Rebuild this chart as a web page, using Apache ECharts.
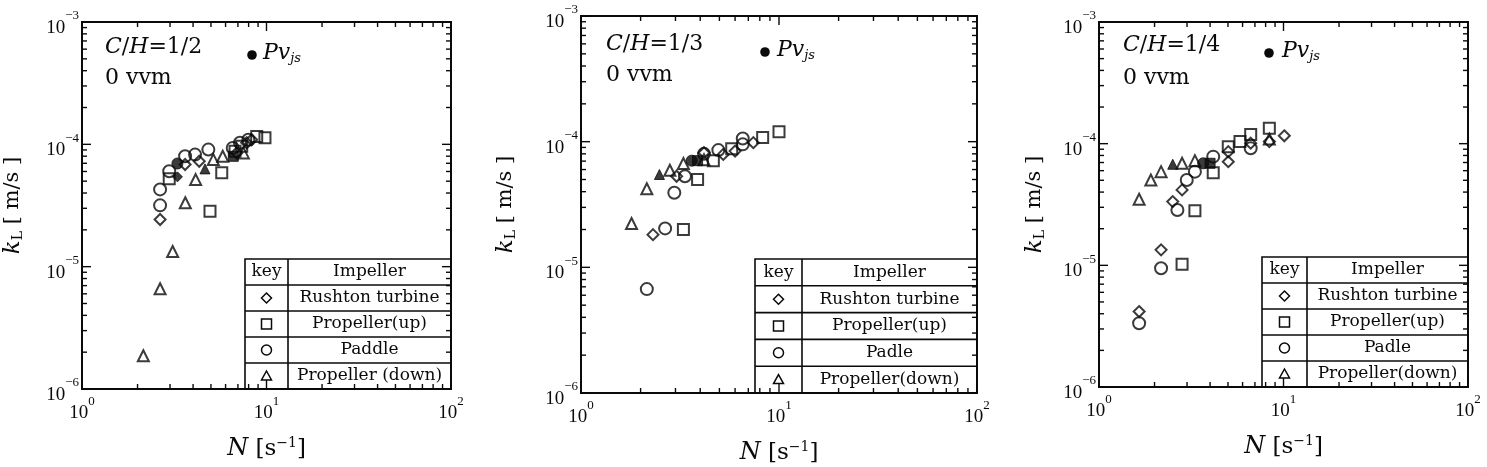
<!DOCTYPE html>
<html><head><meta charset="utf-8">
<script src="https://cdn.jsdelivr.net/npm/echarts@6/dist/echarts.min.js"></script>
<style>html,body{margin:0;padding:0;background:#fff}#c{width:1487px;height:467px}</style>
</head><body><div id="c"></div>
<script>
// ---------- DATA ----------
const RT = 0, UP = 1, PA = 2, DN = 3; // impeller kinds
const ratioLabels = ['1/2', '1/3', '1/4'];
const impellerNames = [
  ['Rushton turbine', 'Propeller(up)', 'Paddle', 'Propeller (down)'],
  ['Rushton turbine', 'Propeller(up)', 'Padle', 'Propeller(down)'],
  ['Rushton turbine', 'Propeller(up)', 'Padle', 'Propeller(down)']
];
// Panel 1 (C/H = 1/2): [N (1/s), kL (m/s)]
const p1Rushton = [[2.65,2.43e-5],[3.62,6.84e-5],[4.32,7.27e-5],[6.9,8.5e-5],[7.81,1.03e-4],[8.31,1.09e-4]];
const p1PropUp  = [[2.97,5.22e-5],[4.94,2.84e-5],[5.72,5.85e-5],[6.75,8.77e-5],[7.34,9.63e-5],[8.85,1.16e-4],[9.81,1.13e-4]];
const p1Paddle  = [[2.65,4.28e-5],[2.65,3.17e-5],[2.97,6.03e-5],[3.62,7.98e-5],[4.10,8.24e-5],[4.84,9.06e-5],[6.56,9.35e-5],[7.18,1.03e-4],[7.97,1.09e-4]];
const p1PropDn  = [[2.15,1.87e-6],[2.65,6.6e-6],[3.10,1.33e-5],[3.63,3.33e-5],[4.13,5.15e-5],[5.15,7.5e-5],[5.79,7.98e-5],[7.49,8.51e-5]];
const p1Pvjs    = [[3.29,5.42e-5,RT],[3.29,6.97e-5,PA],[4.64,6.30e-5,DN],[6.61,7.98e-5,UP]];
// Panel 2 (C/H = 1/3)
const p2Rushton = [[2.31,1.82e-5],[3.04,5.31e-5],[4.18,8.17e-5],[5.23,7.92e-5],[6.0,8.41e-5],[7.42,9.82e-5]];
const p2PropUp  = [[3.29,2.0e-5],[3.88,5.0e-5],[4.66,7.06e-5],[5.77,8.80e-5],[8.27,1.08e-4],[10.0,1.20e-4]];
const p2Paddle  = [[2.15,6.71e-6],[2.66,2.04e-5],[2.96,3.92e-5],[3.35,5.31e-5],[4.18,8.0e-5],[4.94,8.57e-5],[6.56,1.06e-4],[6.56,9.52e-5]];
const p2PropDn  = [[1.80,2.23e-5],[2.15,4.22e-5],[2.81,5.93e-5],[3.29,6.71e-5],[4.18,7.18e-5]];
const p2Pvjs    = [[2.49,5.48e-5,DN],[3.62,7.06e-5,PA],[3.88,7.06e-5,UP]];
// Panel 3 (C/H = 1/4)
const p3Rushton = [[1.65,4.17e-6],[2.17,1.34e-5],[2.51,3.34e-5],[2.82,4.17e-5],[5.02,7.11e-5],[5.02,8.60e-5],[6.64,1.01e-4],[8.38,1.04e-4],[10.1,1.16e-4]];
const p3PropUp  = [[2.82,1.02e-5],[3.31,2.81e-5],[4.16,5.78e-5],[5.02,9.45e-5],[5.81,1.04e-4],[6.64,1.19e-4],[8.38,1.34e-4]];
const p3Paddle  = [[1.65,3.34e-6],[2.17,9.47e-6],[2.66,2.85e-5],[2.99,5.03e-5],[3.31,5.89e-5],[4.16,7.82e-5],[6.64,9.17e-5]];
const p3PropDn  = [[1.65,3.49e-5],[1.91,5.03e-5],[2.17,5.89e-5],[2.82,6.90e-5],[3.31,7.25e-5],[8.38,1.09e-4]];
const p3Pvjs    = [[2.51,6.77e-5,DN],[3.67,6.90e-5,PA],[4.0,6.90e-5,UP]];
// Axis ranges / ticks
const xMin = 1, xMax = 100, yMin = 1e-6, yMax = 1e-3;

const panelSets = [
  [p1Rushton, p1PropUp, p1Paddle, p1PropDn],
  [p2Rushton, p2PropUp, p2Paddle, p2PropDn],
  [p3Rushton, p3PropUp, p3Paddle, p3PropDn]
];
const panelPvjs = [p1Pvjs, p2Pvjs, p3Pvjs];

// ---------- LAYOUT ----------
const grids = [
  {left: 82, top: 22, width: 369, height: 367},
  {left: 581, top: 16, width: 396, height: 377},
  {left: 1099, top: 22, width: 369, height: 365}
];
const yNameGap = [57, 63, 52];
const tableLeft = [163, 174, 163];
const tableDiv = [206, 221, 208];
const tableH = [130, 134, 130];
const annot = [ // [chX, chY, vvmY, dotX, dotY, pX, pY] relative to grid
  [23, 14, 45, 170, 33, 181, 20],
  [25, 17, 48, 184, 36, 196, 23],
  [24, 12, 45, 170, 31, 183, 18]
];
const INK = '#0a0a0a';
const SERIF = '"DejaVu Serif", serif';
const TIMES = '"Liberation Serif", "Times New Roman", serif';
const shapes = ['diamond', 'rect', 'circle', 'triangle'];
const sizes = [11, 11, 12, 11];

// tick values (decades and 2..9 multiples)
function tickVals(lo, hi) {
  const out = [];
  for (let d = Math.round(Math.log10(lo)); d <= Math.round(Math.log10(hi)); d++) {
    for (let m = 1; m <= 9; m++) {
      const v = m * Math.pow(10, d);
      if (v <= hi * 1.0001) out.push([v, m === 1 ? 1 : 0]);
    }
  }
  return out;
}
const xTickVals = tickVals(xMin, xMax);
const yTickVals = tickVals(yMin, yMax);

function expLabel(v) {
  const e = Math.round(Math.log10(v));
  return '{b|10}{s|' + (e < 0 ? '\u2212' + (-e) : e) + '}';
}
const labelRich = {
  b: {fontFamily: TIMES, fontSize: 19, lineHeight: 19, color: INK, padding: [12, 0, 0, 0]},
  s: {fontFamily: TIMES, fontSize: 13, lineHeight: 13, color: INK, padding: [0, 0, 12, 0]}
};

const option = {
  backgroundColor: '#fff',
  animation: false,
  grid: grids.map(g => Object.assign({show: true, borderColor: INK, borderWidth: 2, backgroundColor: 'transparent',
    containLabel: false, outerBoundsMode: 'none'}, g)),
  xAxis: grids.map((g, i) => ({
    type: 'log', logBase: 10, gridIndex: i, min: xMin, max: xMax, splitNumber: 2,
    axisLine: {show: false}, axisTick: {show: false}, splitLine: {show: false},
    axisLabel: {margin: 9, fontSize: 19, fontFamily: TIMES, color: INK, formatter: expLabel, rich: labelRich},
    name: '{n|N} [s{s|\u22121}]', nameLocation: 'middle', nameGap: 47,
    nameTextStyle: {fontFamily: SERIF, fontSize: 23, color: INK,
      rich: {n: {fontFamily: SERIF, fontStyle: 'italic', fontSize: 24, color: INK},
             s: {fontFamily: SERIF, fontSize: 14, color: INK, padding: [0, 0, 12, 0]}}}
  })),
  yAxis: grids.map((g, i) => ({
    type: 'log', logBase: 10, gridIndex: i, min: yMin, max: yMax, splitNumber: 3,
    axisLine: {show: false}, axisTick: {show: false}, splitLine: {show: false},
    axisLabel: {margin: 3, fontSize: 19, fontFamily: TIMES, color: INK, formatter: expLabel, rich: labelRich},
    name: '{k|k}{l|L}{t| [ m/s ]}', nameLocation: 'middle', nameRotate: 90, nameGap: yNameGap[i],
    nameTextStyle: {fontFamily: SERIF, fontSize: 21, color: INK,
      rich: {k: {fontFamily: SERIF, fontStyle: 'italic', fontSize: 23, color: INK},
             l: {fontFamily: SERIF, fontSize: 14, color: INK, padding: [10, 0, 0, 0]},
             t: {fontFamily: SERIF, fontSize: 21, color: INK}}}
  })),
  series: [],
  graphic: []
};

grids.forEach((g, i) => {
  // open markers
  panelSets[i].forEach((set, k) => {
    option.series.push({
      type: 'scatter', name: impellerNames[i][k], xAxisIndex: i, yAxisIndex: i,
      symbol: shapes[k], symbolSize: sizes[k], data: set, z: 3,
      itemStyle: {color: 'rgba(0,0,0,0)', borderColor: INK, borderWidth: 2}
    });
  });
  // filled markers (Pvjs)
  option.series.push({
    type: 'scatter', name: 'Pvjs', xAxisIndex: i, yAxisIndex: i, z: 4,
    data: panelPvjs[i].map(d => ({value: [d[0], d[1]], symbol: shapes[d[2]], symbolSize: sizes[d[2]] - 1})),
    itemStyle: {color: INK, borderColor: INK, borderWidth: 1}
  });
  // ticks on all four sides
  const tickData = xTickVals.map(t => [t[0], yMin, 0, t[1]]).concat(yTickVals.map(t => [xMin, t[0], 1, t[1]]));
  option.series.push({
    type: 'custom', xAxisIndex: i, yAxisIndex: i, silent: true, z: 5, clip: false,
    data: tickData,
    renderItem: function (params, api) {
      const cs = params.coordSys;
      const isY = api.value(2) === 1;
      const len = api.value(3) === 1 ? 9 : 5;
      const p = api.coord([api.value(0), api.value(1)]);
      const style = {stroke: INK, lineWidth: 1.4};
      if (!isY) {
        const x = p[0], yb = cs.y + cs.height, yt = cs.y;
        return {type: 'group', children: [
          {type: 'line', shape: {x1: x, y1: yb, x2: x, y2: yb - len}, style: style},
          {type: 'line', shape: {x1: x, y1: yt, x2: x, y2: yt + len}, style: style}]};
      }
      const y = p[1], xl = cs.x, xr = cs.x + cs.width;
      return {type: 'group', children: [
        {type: 'line', shape: {x1: xl, y1: y, x2: xl + len, y2: y}, style: style},
        {type: 'line', shape: {x1: xr, y1: y, x2: xr - len, y2: y}, style: style}]};
    }
  });

  // ---------- annotations ----------
  const a = annot[i];
  option.graphic.push(
    {type: 'text', x: g.left + a[0], y: g.top + a[1], silent: true,
     style: {text: '{i|C}/{i|H}=' + ratioLabels[i], fontFamily: SERIF, fontSize: 22, fill: INK,
       textVerticalAlign: 'top', rich: {i: {fontFamily: SERIF, fontStyle: 'italic', fontSize: 22, fill: INK}}}},
    {type: 'text', x: g.left + a[0], y: g.top + a[2], silent: true,
     style: {text: '0 vvm', fontFamily: SERIF, fontSize: 22, fill: INK, textVerticalAlign: 'top'}},
    {type: 'circle', shape: {cx: g.left + a[3], cy: g.top + a[4], r: 4.8}, style: {fill: INK}, silent: true},
    {type: 'text', x: g.left + a[5], y: g.top + a[6], silent: true,
     style: {text: '{p|Pv}{j|js}', fontFamily: SERIF, fontSize: 22, fill: INK, textVerticalAlign: 'top',
       rich: {p: {fontFamily: SERIF, fontStyle: 'italic', fontSize: 22, fill: INK},
              j: {fontFamily: SERIF, fontStyle: 'italic', fontSize: 13, fill: INK, padding: [10, 0, 0, 0]}}}}
  );

  // ---------- key table ----------
  const x0 = g.left + tableLeft[i], x1 = g.left + g.width, xd = g.left + tableDiv[i];
  const y1 = g.top + g.height, y0 = y1 - tableH[i], rh = (y1 - y0) / 5;
  const ls = {stroke: INK, lineWidth: 1.6, fill: null};
  option.graphic.push({type: 'rect', shape: {x: x0, y: y0, width: x1 - x0, height: y1 - y0}, style: {stroke: INK, lineWidth: 1.6, fill: 'rgba(0,0,0,0)'}, silent: true});
  option.graphic.push({type: 'line', shape: {x1: xd, y1: y0, x2: xd, y2: y1}, style: ls, silent: true});
  for (let j = 1; j < 5; j++) {
    option.graphic.push({type: 'line', shape: {x1: x0, y1: y0 + rh * j, x2: x1, y2: y0 + rh * j}, style: ls, silent: true});
  }
  const kx = (x0 + xd) / 2, nx = (xd + x1) / 2;
  const txt = (x, y, s) => ({type: 'text', x: x, y: y, silent: true,
    style: {text: s, fontFamily: SERIF, fontSize: 17, fill: INK, textAlign: 'center', textVerticalAlign: 'middle'}});
  option.graphic.push(txt(kx, y0 + rh * 0.5, 'key'), txt(nx, y0 + rh * 0.5, 'Impeller'));
  for (let k = 0; k < 4; k++) {
    const cy = y0 + rh * (k + 1.5);
    option.graphic.push(txt(nx, cy, impellerNames[i][k]));
    const sst = {stroke: INK, lineWidth: 1.5, fill: 'rgba(0,0,0,0)'};
    let el;
    if (k === RT) el = {type: 'polygon', shape: {points: [[kx, cy - 5], [kx + 5, cy], [kx, cy + 5], [kx - 5, cy]]}, style: sst};
    else if (k === UP) el = {type: 'rect', shape: {x: kx - 5, y: cy - 5, width: 10, height: 10}, style: sst};
    else if (k === PA) el = {type: 'circle', shape: {cx: kx, cy: cy, r: 5}, style: sst};
    else el = {type: 'polygon', shape: {points: [[kx, cy - 5], [kx + 5, cy + 4], [kx - 5, cy + 4]]}, style: sst};
    el.silent = true;
    option.graphic.push(el);
  }
});

const chart = echarts.init(document.getElementById('c'), null, {renderer: 'canvas'});
chart.setOption(option);
</script>
</body></html>
